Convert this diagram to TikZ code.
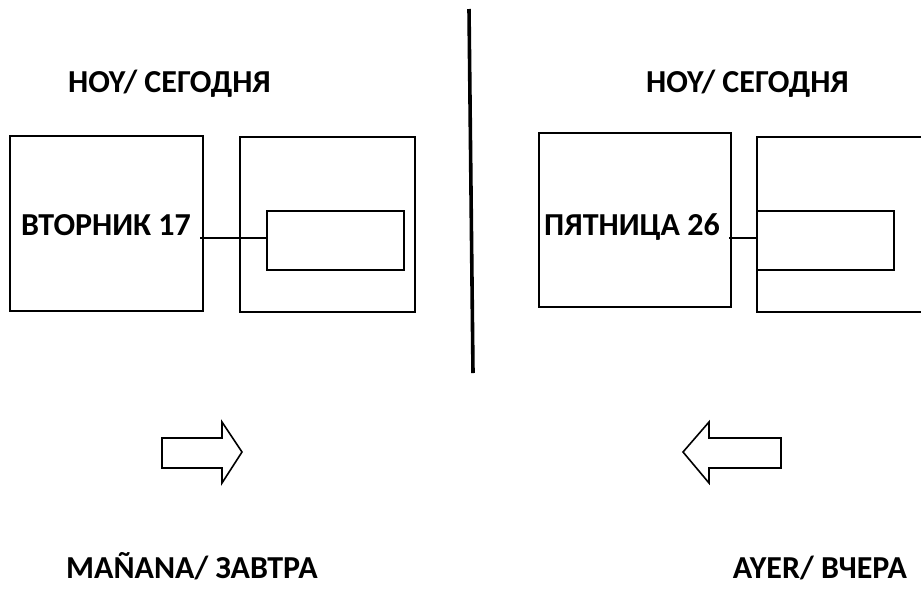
\documentclass[tikz,border=0pt]{standalone}
\usepackage{fontspec}
\setmainfont{Carlito}
\begin{document}
\begin{tikzpicture}[x=1pt,y=-1pt,
  box/.style={draw=black,line width=1.9pt,rectangle,minimum width=#1,inner sep=0pt},
  lbl/.style={font=\fontsize{32}{36}\selectfont\bfseries,anchor=base,inner sep=0pt},
  link/.style={line width=2pt},
  bigarrow/.style={draw=black,line width=1.6pt,line join=miter}]
\useasboundingbox[fill=white] (0,0) rectangle (921,598);
% divider
\coordinate (dtop) at (469,9);
\coordinate (dbot) at (473,373);
\draw[line width=3.6pt] (dtop) -- (dbot);
% titles
\node[lbl] (hoyL) at (169.5,92) {HOY/ СЕГОДНЯ};
\node[lbl] (hoyR) at (747.5,92) {HOY/ СЕГОДНЯ};
% left group
\node[box=193pt,minimum height=175pt] (bL1) at (106.5,223.5) {};
\node[box=175pt,minimum height=175pt] (bL2) at (327.5,224.5) {};
\node[box=137pt,minimum height=59pt] (iL) at (335.5,240.5) {};
\node[lbl] (tL) at (106,235) {ВТОРНИК 17};
\coordinate (cL) at (200,238);
\draw[link] (cL) -- (cL -| iL.west);
% right group
\node[box=192pt,minimum height=174pt] (bR1) at (635,220) {};
\coordinate (r2a) at (921,137);
\coordinate (r2b) at (757,137);
\coordinate (r2c) at (757,312);
\coordinate (r2d) at (921,312);
\draw[line width=1.9pt] (r2a) -- (r2b) -- (r2c) -- (r2d);
\node[box=137pt,minimum height=59pt] (iR) at (825.5,240.5) {};
\node[lbl] (tR) at (632,235) {ПЯТНИЦА 26};
\coordinate (cR) at (729,238);
\draw[link] (cR) -- (cR -| iR.west);
% arrows
\draw[bigarrow] (162,438) -- (222,438) -- (222,422) -- (242,452) -- (222,483) -- (222,468) -- (162,468) -- cycle;
\draw[bigarrow] (781,438) -- (709,438) -- (709,422) -- (683,452) -- (709,483) -- (709,468) -- (781,468) -- cycle;
% bottom labels
\node[lbl] (man) at (192,578) {MAÑANA/ ЗАВТРА};
\node[lbl] (ayer) at (820,578) {AYER/ ВЧЕРА};
\end{tikzpicture}
\end{document}
